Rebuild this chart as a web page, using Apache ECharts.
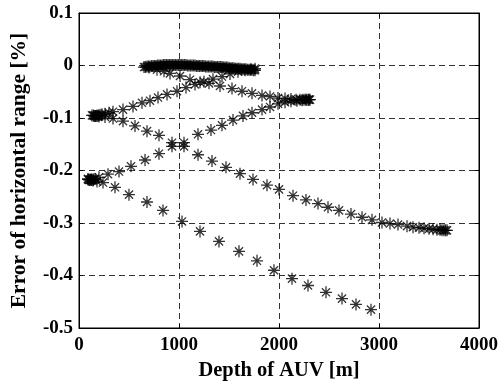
<!DOCTYPE html>
<html>
<head>
<meta charset="utf-8">
<script src="https://cdn.jsdelivr.net/npm/echarts@6/dist/echarts.min.js"></script>
<style>
html,body{margin:0;padding:0;background:#fff;}
#chart{width:501px;height:390px;}
</style>
</head>
<body>
<div id="chart"></div>
<script>
// Tick values
var xTicks = [0, 1000, 2000, 3000, 4000];
var yTicks = [-0.5, -0.4, -0.3, -0.2, -0.1, 0, 0.1];

// Series: [depth (m), error (%)]
var seriesTop = [
  [650,-0.003],[665,-0.003],[680,-0.002],[695,-0.002],[710,-0.002],[725,-0.001],[740,-0.001],[755,-0.001],
  [770,-0.001],[785,0],[800,0],[815,0],[830,0],[845,0.001],[860,0.001],[875,0.001],[890,0.001],[905,0.001],
  [920,0.001],[935,0.001],[950,0.001],[965,0.001],[980,0.001],[995,0.001],[1010,0.001],[1025,0.001],
  [1040,0.001],[1055,0.001],[1070,0.001],[1085,0],[1100,0],[1115,0],[1130,0],[1145,0],[1160,0],[1175,-0.001],
  [1190,-0.001],[1205,-0.001],[1220,-0.001],[1235,-0.001],[1250,-0.001],[1265,-0.002],[1280,-0.002],
  [1295,-0.002],[1310,-0.002],[1325,-0.002],[1340,-0.002],[1355,-0.003],[1370,-0.003],[1385,-0.003],
  [1400,-0.003],[1415,-0.003],[1430,-0.003],[1445,-0.004],[1460,-0.004],[1475,-0.004],[1490,-0.004],
  [1505,-0.005],[1520,-0.005],[1535,-0.005],[1550,-0.005],[1565,-0.006],[1580,-0.006],[1595,-0.006],
  [1610,-0.006],[1625,-0.007],[1640,-0.007],[1655,-0.007],[1670,-0.007],[1685,-0.008],[1700,-0.008],
  [1715,-0.008],[1730,-0.008],[1745,-0.009],[1760,-0.009]
];
var seriesUpperRise = [
  [150,-0.096],[165,-0.096],[180,-0.095],[195,-0.095],[210,-0.094],[230,-0.093],[260,-0.092],[300,-0.090],
  [340,-0.088],[440,-0.084],[540,-0.078],[630,-0.071],[710,-0.067],[790,-0.061],[880,-0.055],[980,-0.049],
  [1070,-0.042],[1160,-0.036],[1250,-0.031],[1340,-0.026],[1430,-0.021],[1510,-0.016],[1590,-0.012],
  [1660,-0.009],[1720,-0.007],[1760,-0.006]
];
var seriesUpperFall = [
  [700,-0.004],[780,-0.008],[850,-0.011],[910,-0.015],[1010,-0.020],[1110,-0.027],[1210,-0.032],
  [1300,-0.034],[1410,-0.039],[1530,-0.044],[1630,-0.049],[1730,-0.053],[1830,-0.057],[1910,-0.059],
  [1990,-0.062],[2060,-0.063],[2120,-0.064],[2170,-0.065],[2210,-0.065],[2240,-0.065],[2260,-0.065],
  [2280,-0.065],[2295,-0.065],[2310,-0.065]
];
var seriesMidFall = [
  [130,-0.095],[145,-0.095],[160,-0.096],[180,-0.096],[200,-0.097],[260,-0.098],[340,-0.101],[440,-0.106],
  [560,-0.115],[680,-0.125],[800,-0.133],[930,-0.147],[1050,-0.154],[1190,-0.170],[1330,-0.182],[1470,-0.194],
  [1610,-0.206],[1740,-0.217],[1880,-0.228],[2000,-0.236],[2140,-0.248],[2270,-0.256],[2390,-0.263],
  [2490,-0.270],[2600,-0.276],[2720,-0.283],[2830,-0.289],[2930,-0.294],[3030,-0.299],[3110,-0.301],
  [3190,-0.303],[3280,-0.306],[3340,-0.308],[3400,-0.309],[3450,-0.310],[3500,-0.311],[3540,-0.312],
  [3580,-0.313],[3610,-0.313],[3630,-0.314],[3650,-0.314],[3665,-0.314],[3680,-0.314]
];
var seriesLowerRise = [
  [90,-0.217],[100,-0.218],[110,-0.218],[120,-0.217],[130,-0.217],[145,-0.217],[160,-0.216],[200,-0.213],
  [290,-0.207],[400,-0.202],[520,-0.192],[660,-0.180],[800,-0.168],[930,-0.154],[1050,-0.147],[1190,-0.131],
  [1320,-0.123],[1430,-0.114],[1540,-0.104],[1640,-0.096],[1730,-0.090],[1830,-0.084],[1910,-0.079],
  [1990,-0.073],[2060,-0.070],[2120,-0.068],[2180,-0.067],[2230,-0.066],[2270,-0.065],[2300,-0.065]
];
var seriesLowerFall = [
  [90,-0.216],[110,-0.217],[125,-0.218],[140,-0.219],[180,-0.221],[240,-0.223],[360,-0.232],[500,-0.246],
  [680,-0.260],[840,-0.276],[1030,-0.297],[1210,-0.316],[1400,-0.335],[1600,-0.354],[1780,-0.372],
  [1950,-0.390],[2130,-0.406],[2290,-0.419],[2470,-0.432],[2630,-0.444],[2770,-0.455],[2920,-0.465]
];

var allSeries = [seriesTop, seriesUpperRise, seriesUpperFall, seriesMidFall, seriesLowerRise, seriesLowerFall];

var FONT = '"Liberation Serif", "Times New Roman", serif';
var starPath = 'path://M5,0L5,10M0,5L10,5M1.6,1.6L8.4,8.4M1.6,8.4L8.4,1.6';

function fmtY(v) {
  if (Math.abs(v) < 1e-9) return '0';
  return v.toFixed(1);
}
function fmtX(v) { return String(Math.round(v)); }

var chart = echarts.init(document.getElementById('chart'), null, {renderer: 'canvas'});
var option = {
  animation: false,
  backgroundColor: '#fff',
  grid: {left: 79, right: 22, top: 13, bottom: 62, show: true, borderColor: '#000', borderWidth: 1, backgroundColor: 'transparent'},
  xAxis: [{
    type: 'value',
    min: xTicks[0], max: xTicks[xTicks.length - 1], interval: xTicks[1] - xTicks[0],
    name: 'Depth of AUV [m]', nameLocation: 'middle', nameGap: 31,
    nameTextStyle: {fontFamily: FONT, fontWeight: 'bold', fontSize: 20.5, color: '#000'},
    axisLine: {show: true, onZero: false, lineStyle: {color: '#000', width: 1}},
    axisTick: {show: true, inside: true, length: 4, lineStyle: {color: '#000'}},
    axisLabel: {fontFamily: FONT, fontWeight: 'bold', fontSize: 19, color: '#000', margin: 8, formatter: fmtX},
    splitLine: {show: true, lineStyle: {color: '#333', type: [6, 4], width: 1}}
  }, {
    type: 'value', position: 'top',
    min: xTicks[0], max: xTicks[xTicks.length - 1], interval: xTicks[1] - xTicks[0],
    axisLine: {show: true, onZero: false, lineStyle: {color: '#000'}},
    axisTick: {show: true, inside: true, length: 4, lineStyle: {color: '#000'}},
    axisLabel: {show: false}, splitLine: {show: false}
  }],
  yAxis: [{
    type: 'value',
    min: yTicks[0], max: yTicks[yTicks.length - 1], interval: 0.1,
    name: 'Error of horizontal range [%]', nameLocation: 'middle', nameGap: 49, nameRotate: 90,
    nameTextStyle: {fontFamily: FONT, fontWeight: 'bold', fontSize: 21.5, color: '#000'},
    axisLine: {show: true, onZero: false, lineStyle: {color: '#000', width: 1}},
    axisTick: {show: true, inside: true, length: 4, lineStyle: {color: '#000'}},
    axisLabel: {fontFamily: FONT, fontWeight: 'bold', fontSize: 19, color: '#000', margin: 6, formatter: fmtY},
    splitLine: {show: true, lineStyle: {color: '#333', type: [6, 4], width: 1}}
  }, {
    type: 'value', position: 'right',
    min: yTicks[0], max: yTicks[yTicks.length - 1], interval: 0.1,
    axisLine: {show: true, onZero: false, lineStyle: {color: '#000'}},
    axisTick: {show: true, inside: true, length: 4, lineStyle: {color: '#000'}},
    axisLabel: {show: false}, splitLine: {show: false}
  }],
  series: allSeries.map(function (d) {
    return {
      type: 'scatter',
      data: d,
      symbol: starPath,
      symbolSize: 12,
      itemStyle: {color: 'rgba(0,0,0,0)', borderColor: '#000', borderWidth: 1.3},
      emphasis: {disabled: true},
      silent: true
    };
  })
};
chart.setOption(option);
</script>
</body>
</html>
